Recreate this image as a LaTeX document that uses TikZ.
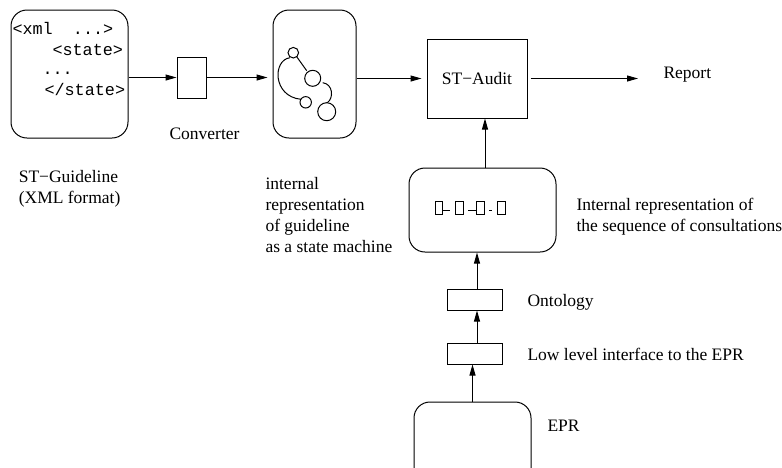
\documentclass[tikz,border=0pt]{standalone}
\usepackage{fontspec}
\setmainfont{Liberation Serif}
\setmonofont{Liberation Mono}
\usetikzlibrary{arrows.meta}

\begin{document}
\begin{tikzpicture}[x=0.5pt,y=-0.5pt,line width=0.5pt,
  every node/.style={font=\fontsize{8.75}{10.5}\selectfont},
  rbox/.style={draw,rounded corners=8pt,inner sep=0pt},
  sbox/.style={draw,inner sep=0pt},
  lbl/.style={anchor=base west,inner sep=0pt,align=left},
  code/.style={anchor=base west,inner sep=0pt,font=\ttfamily\fontsize{8.4}{10.5}\selectfont},
  arr/.style={-{Triangle[length=5.5pt,width=3pt]}}]
\useasboundingbox (0,0) rectangle (782,467);
\clip (0,0) rectangle (782,467);
% guideline in XML
\node[rbox,minimum width=58.5pt,minimum height=64pt] (xml) at (69.5,74) {};
\node[code] (xmlA) at (12,34) {<xml\ \ ...>};
\node[code] (xmlB) at (52,55) {<state>};
\node[code] (xmlC) at (42,74) {...};
\node[code] (xmlD) at (44,95) {</state>};
\node[lbl] (guidelbl) at (18.3,203.7) {ST−Guideline\\(XML format)};
% converter
\node[sbox,minimum width=14.5pt,minimum height=20.5pt] (conv) at (191.5,77.5) {};
\node[lbl] (convlbl) at (169,139) {Converter};
% state machine
\node[rbox,minimum width=41.5pt,minimum height=64pt] (sm) at (314.5,74) {};
\draw (293.3,52.7) circle[radius=2.65pt];
\draw (312.7,78.3) circle[radius=4pt];
\draw (305.7,102.3) circle[radius=2.85pt];
\draw (326.7,111.7) circle[radius=4.5pt];
\draw (296.7,56.7) -- (306.7,70.7);
\draw (290,57.7) .. controls (272.5,60) and (272.5,96.5) .. (301,99.3);
\draw (322.7,82.7) .. controls (333,84) and (334,98) .. (327.3,102.7);
\node[lbl] (smlbl) at (265,252) {internal\\representation\\of guideline\\as a state machine};
% audit
\node[sbox,minimum width=50pt,minimum height=39.5pt] (audit) at (477,78.5) {ST−Audit};
\node[lbl] (report) at (663,78) {Report};
% sequence of consultations
\node[rbox,minimum width=73.5pt,minimum height=42pt] (seq) at (482.5,210) {};
\foreach \a/\b in {435/442.3,455.7/463.3,476.7/484,497.3/505.7}
  \draw[line width=0.4pt] (\a,201.7) rectangle (\b,214);
\foreach \a/\b in {442.3/450,468.3/476.7,489/492.3}
  \draw[line width=0.4pt] (\a,210) -- (\b,210);
\node[lbl] (seqlbl) at (576,231) {Internal representation of\\the sequence of consultations};
% EPR side
\node[sbox,minimum width=27.5pt,minimum height=10.5pt] (onto) at (474.5,299.5) {};
\node[lbl] (ontolbl) at (527,306.7) {Ontology};
\node[sbox,minimum width=27.5pt,minimum height=10.5pt] (low) at (474.5,353.5) {};
\node[lbl] (lowlbl) at (527,360) {Low level interface to the EPR};
\node[rbox,minimum width=58.5pt,minimum height=44pt] (epr) at (472.5,446) {};
\node[lbl] (eprlbl) at (547,431) {EPR};
% connectors
\draw[arr] (xml.east |- conv.west) -- (conv.west);
\draw[arr,shorten >=2.5pt] (conv.east) -- (conv.east -| sm.west);
\draw[arr,shorten >=2.5pt] (sm.east |- audit.west) -- (audit.west);
\draw[arr,shorten <=1.5pt,shorten >=12.5pt] (audit.east) -- (audit.east -| report.west);
\draw[arr] ([xshift=1.25pt]seq.north) -- ([xshift=1.25pt]seq.north |- audit.south);
\draw[arr] ([xshift=1.25pt]onto.north) -- ([xshift=1.25pt]onto.north |- seq.south);
\draw[arr] ([xshift=1.25pt]low.north) -- ([xshift=1.25pt]low.north |- onto.south);
\draw[arr] (epr.north) -- (epr.north |- low.south);
\end{tikzpicture}
\end{document}
